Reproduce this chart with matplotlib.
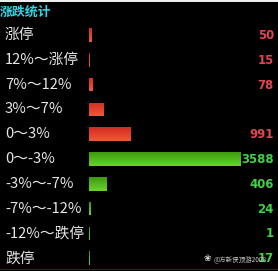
import matplotlib
matplotlib.use('Agg')
import matplotlib.pyplot as plt
import numpy as np
from matplotlib.colors import LinearSegmentedColormap
from matplotlib.patches import Rectangle

plt.rcParams['font.family'] = ['Noto Sans CJK SC', 'DejaVu Sans']

title = '涨跌统计'
categories = ['涨停', '12%～涨停', '7%～12%', '3%～7%', '0～3%',
              '0～-3%', '-3%～-7%', '-7%～-12%', '-12%～跌停', '跌停']
counts = [50, 15, 78, 350, 991, 3588, 406, 24, 1, 17]
count_labels = ['50', '15', '78', '', '991', '3588', '406', '24', '1', '17']
is_up = [True, True, True, True, True, False, False, False, False, False]
watermark = '@方新侠顶游2008'

W, H = 278, 271
fig = plt.figure(figsize=(W / 100, H / 100), dpi=100, facecolor='black')

# background / frame pieces in pixel coordinates
bg = fig.add_axes([0, 0, 1, 1])
bg.set_xlim(0, W)
bg.set_ylim(H, 0)
bg.set_facecolor('black')
bg.axis('off')
bg.add_patch(Rectangle((0, 0), W, 2, color='#eeeeee', lw=0))
bg.add_patch(Rectangle((0, 268.5), W, 1.2, color='#5c1212', lw=0))
bg.text(0, 12, title, color='#34d4e4', fontsize=9.3, fontweight='bold',
        va='center', ha='left')

# bar axes
row_h = 24.8
top_px = 35 - row_h / 2
n = len(categories)
bar_left = 89
bar_full = 151  # pixels for the largest count
ax = fig.add_axes([bar_left / W, 1 - (top_px + n * row_h) / H,
                   (W - bar_left) / W, n * row_h / H])
ax.set_facecolor('none')
ax.axis('off')
xmax = max(counts) * (W - bar_left) / bar_full

red_cmap = LinearSegmentedColormap.from_list('r', ['#d42a22', '#ee5a38'])
green_cmap = LinearSegmentedColormap.from_list('g', ['#3c9a0e', '#6ad42a'])
grad = np.linspace(0, 1, 32).reshape(-1, 1)

min_w = xmax / (W - bar_left) * 1.0
y = np.arange(n)
widths = [max(c, min_w) for c in counts]
bars = ax.barh(y, widths, height=0.55, left=0, color='none', lw=0)
for b, up in zip(bars, is_up):
    x0, y0 = b.get_x(), b.get_y()
    im = ax.imshow(grad, cmap=red_cmap if up else green_cmap, aspect='auto',
                   extent=(x0, x0 + b.get_width(), y0 + b.get_height(), y0),
                   interpolation='bilinear')
    im.set_clip_path(b)
ax.set_xlim(0, xmax)
ax.set_ylim(n - 0.5, -0.5)

for i, (cat, lab, up) in enumerate(zip(categories, count_labels, is_up)):
    ypx = top_px + (i + 0.5) * row_h
    bg.text(5, ypx, cat, color='#e6e6e6', fontsize=10.6, va='center', ha='left')
    if lab:
        bg.text(274, ypx + 0.5, lab, color='#e04650' if up else '#44d044',
                fontsize=9.4, fontweight='bold', fontstretch='condensed',
                family=['DejaVu Sans'], va='center', ha='right')

# watermark
bg.text(207, 258.5, '\u2740', color='#d8d8d8', fontsize=6.5, va='center', ha='center',
        family=['DejaVu Sans'])
bg.text(214, 260, watermark, color='#c8c8c8', fontsize=4.7, va='center', ha='left')

fig.savefig('out.png', dpi=100, facecolor='black')
